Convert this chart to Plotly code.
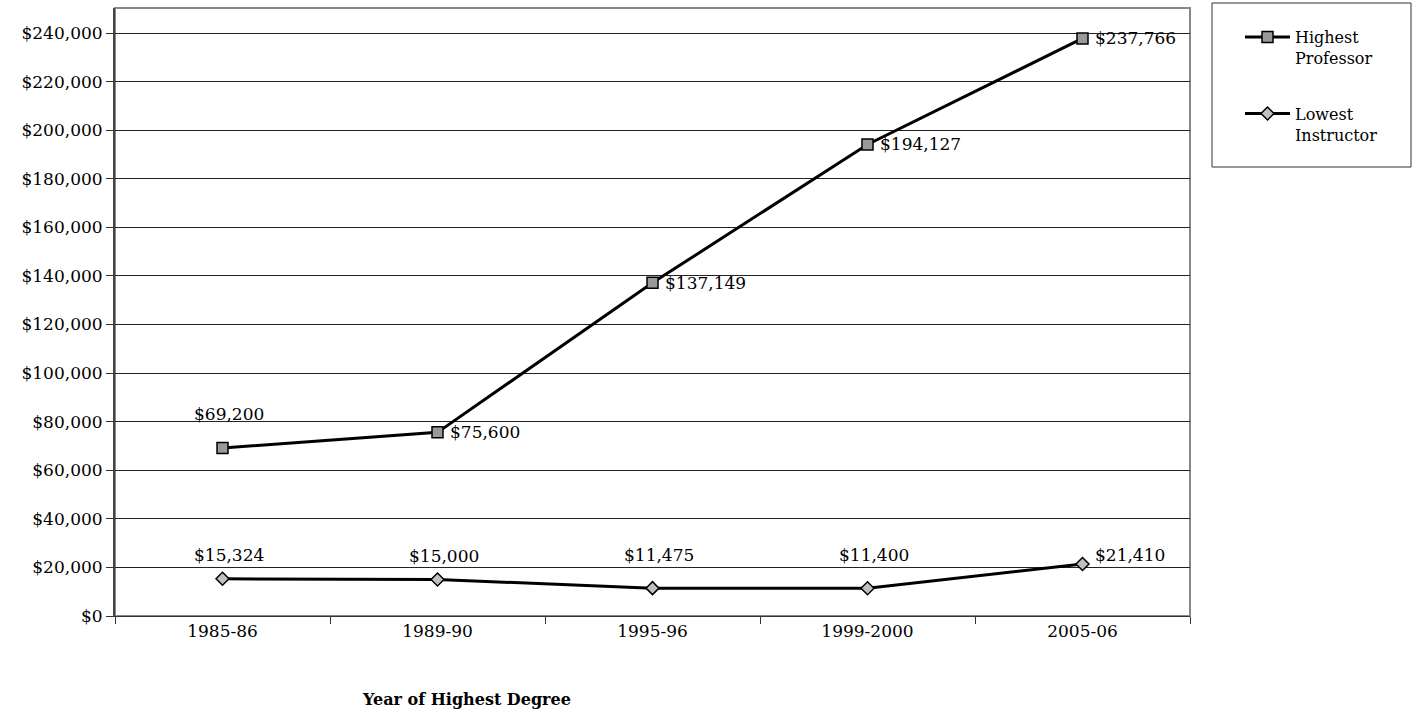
import plotly.graph_objects as go

years = ["1985-86", "1989-90", "1995-96", "1999-2000", "2005-06"]
highest_professor = [69200, 75600, 137149, 194127, 237766]
lowest_instructor = [15324, 15000, 11475, 11400, 21410]

# label placement per point: "top" sits above the marker, "right" beside it
prof_label_pos = ["top", "right", "right", "right", "right"]
instr_label_pos = ["top", "top", "top", "top", "right"]
# extra lift (px) so the instructor labels line up on one row
instr_label_shift = [14, 14, 23, 23, 9]

FONT = "Georgia, 'DejaVu Serif', serif"
FS = 17

fig = go.Figure()
fig.add_trace(go.Scatter(
    x=years, y=highest_professor, mode="lines+markers",
    name="Highest<br>Professor", legendgroup="a",
    line=dict(color="black", width=3),
    marker=dict(symbol="square", size=11, color="#999999",
                line=dict(color="black", width=1.5)),
))
fig.add_trace(go.Scatter(
    x=years, y=lowest_instructor, mode="lines+markers",
    name="Lowest<br>Instructor", legendgroup="b",
    line=dict(color="black", width=3),
    marker=dict(symbol="diamond", size=10, color="#c0c0c0",
                line=dict(color="black", width=1.5)),
))


def add_labels(values, positions, shifts):
    for cat, v, pos, sh in zip(years, values, positions, shifts):
        text = "${:,}".format(v)
        if pos == "top":
            fig.add_annotation(x=cat, y=v, text=text, showarrow=False,
                               xanchor="center", yanchor="bottom",
                               xshift=6, yshift=sh)
        else:
            fig.add_annotation(x=cat, y=v, text=text, showarrow=False,
                               xanchor="left", yanchor="middle",
                               xshift=10, yshift=sh)


add_labels(highest_professor, prof_label_pos, [22, 0, 0, 0, 0])
add_labels(lowest_instructor, instr_label_pos, [s - 2 for s in instr_label_shift[:4]] + [9])

fig.add_annotation(x=(466 - 115) / 1075, y=-0.138, xref="paper", yref="paper",
                   text="<b>Year of Highest Degree</b>", showarrow=False,
                   xanchor="center", yanchor="middle",
                   font=dict(size=16, family=FONT, color="black"))

# legend frame
fig.add_shape(type="rect", xref="paper", yref="paper",
              x0=(1212 - 115) / 1075, x1=(1411 - 115) / 1075,
              y0=(616 - 167) / 608, y1=(616 - 3) / 608,
              line=dict(color="#333333", width=1), fillcolor="white")

fig.update_layout(
    width=1416, height=712,
    margin=dict(l=115, r=226, t=8, b=96),
    paper_bgcolor="white", plot_bgcolor="white",
    font=dict(family=FONT, size=FS, color="black"),
    showlegend=True,
    legend=dict(x=(1240 - 115) / 1075, y=(616 - 20) / 608,
                xanchor="left", yanchor="top", valign="top",
                bgcolor="rgba(0,0,0,0)", borderwidth=0,
                tracegroupgap=32, itemwidth=45,
                font=dict(size=16, family=FONT, color="black")),
    xaxis=dict(type="category", range=[-0.5, 4.5],
               showgrid=False, tickson="boundaries",
               ticks="outside", ticklen=7, tickcolor="#333333",
               showline=True, linecolor="#333333", linewidth=1,
               mirror=False, zeroline=False,
               tickfont=dict(size=FS, family=FONT)),
    yaxis=dict(range=[0, 250300], dtick=20000, tickformat="$,.0f",
               showgrid=True, gridcolor="#222222", gridwidth=1,
               ticks="outside", ticklen=7, tickcolor="#333333",
               showline=True, linecolor="#444444", linewidth=2,
               zeroline=False,
               tickfont=dict(size=FS, family=FONT)),
)

# gray frame along the top and right of the plotting area
fig.add_shape(type="rect", xref="paper", yref="paper", x0=0, x1=1, y0=0, y1=1,
              line=dict(color="#888888", width=2), layer="below")

fig.write_html("out.html")
